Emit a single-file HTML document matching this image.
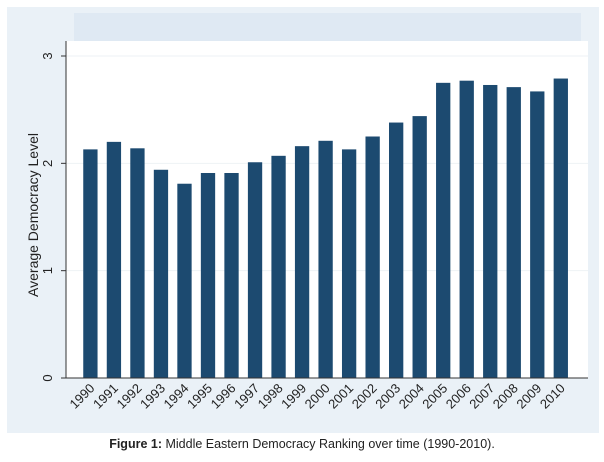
<!DOCTYPE html>
<html><head><meta charset="utf-8"><style>
body{margin:0;background:#fff;width:604px;height:457px;overflow:hidden;font-family:"Liberation Sans",sans-serif}
</style></head><body>
<svg id="chart" width="604" height="457" xmlns="http://www.w3.org/2000/svg" font-family="Liberation Sans, sans-serif">
<rect x="7" y="7" width="592" height="426" fill="#eaf1f7"/>
<rect x="74" y="13" width="507" height="28" fill="#dfe9f3"/>
<rect x="66" y="41" width="522" height="337" fill="#ffffff"/>
<g id="grid"></g>
<g id="bars"></g>
<g id="axes"></g>
<text transform="translate(38,215) rotate(-90)" text-anchor="middle" font-size="14" fill="#222">Average Democracy Level</text>
<text x="302" y="448" text-anchor="middle" font-size="12.5" fill="#222"><tspan font-weight="bold">Figure 1:</tspan> Middle Eastern Democracy Ranking over time (1990-2010).</text>
</svg>
<script>
const years=["1990","1991","1992","1993","1994","1995","1996","1997","1998","1999","2000","2001","2002","2003","2004","2005","2006","2007","2008","2009","2010"];
const values=[2.13,2.20,2.14,1.94,1.81,1.91,1.91,2.01,2.07,2.16,2.21,2.13,2.25,2.38,2.44,2.75,2.77,2.73,2.71,2.67,2.79];
const yTicks=[0,1,2,3];
const NS="http://www.w3.org/2000/svg";
const y0=378,y3=56;
function yS(v){return y0-(v/3)*(y0-y3);}
function xS(i){return 90.4+i*23.52;}
const bw=14.3;
function mk(t,a,p){const e=document.createElementNS(NS,t);for(const k in a)e.setAttribute(k,a[k]);p.appendChild(e);return e;}
const grid=document.getElementById('grid'),bars=document.getElementById('bars'),axes=document.getElementById('axes');
yTicks.forEach(t=>{
  if(t>0){const g=mk('line',{x1:66,x2:588,y1:yS(t),y2:yS(t),stroke:'#eef2f5','stroke-width':1},grid);
  
  }
  const tk=mk('line',{x1:61,x2:66,y1:yS(t),y2:yS(t),stroke:'#333'},axes);
  
  
  const lb=mk('text',{transform:`translate(52,${yS(t)}) rotate(-90)`,'text-anchor':'middle','font-size':13,fill:'#222'},axes);
  lb.textContent=t;
  
  
});
values.forEach((v,i)=>{
  const r=mk('rect',{x:xS(i)-bw/2,y:yS(v),width:bw,height:y0-yS(v),fill:'#1c4a70'},bars);
  
  
  const lb=mk('text',{transform:`translate(${xS(i)+5},${y0+11}) rotate(-45)`,'text-anchor':'end','font-size':13,fill:'#222'},axes);
  lb.textContent=years[i];
  
  
});
const ya=mk('line',{x1:66,x2:66,y1:41,y2:378,stroke:'#333'},axes);


const xa=mk('line',{x1:66,x2:588,y1:378,y2:378,stroke:'#333'},axes);


</script>
</body></html>
